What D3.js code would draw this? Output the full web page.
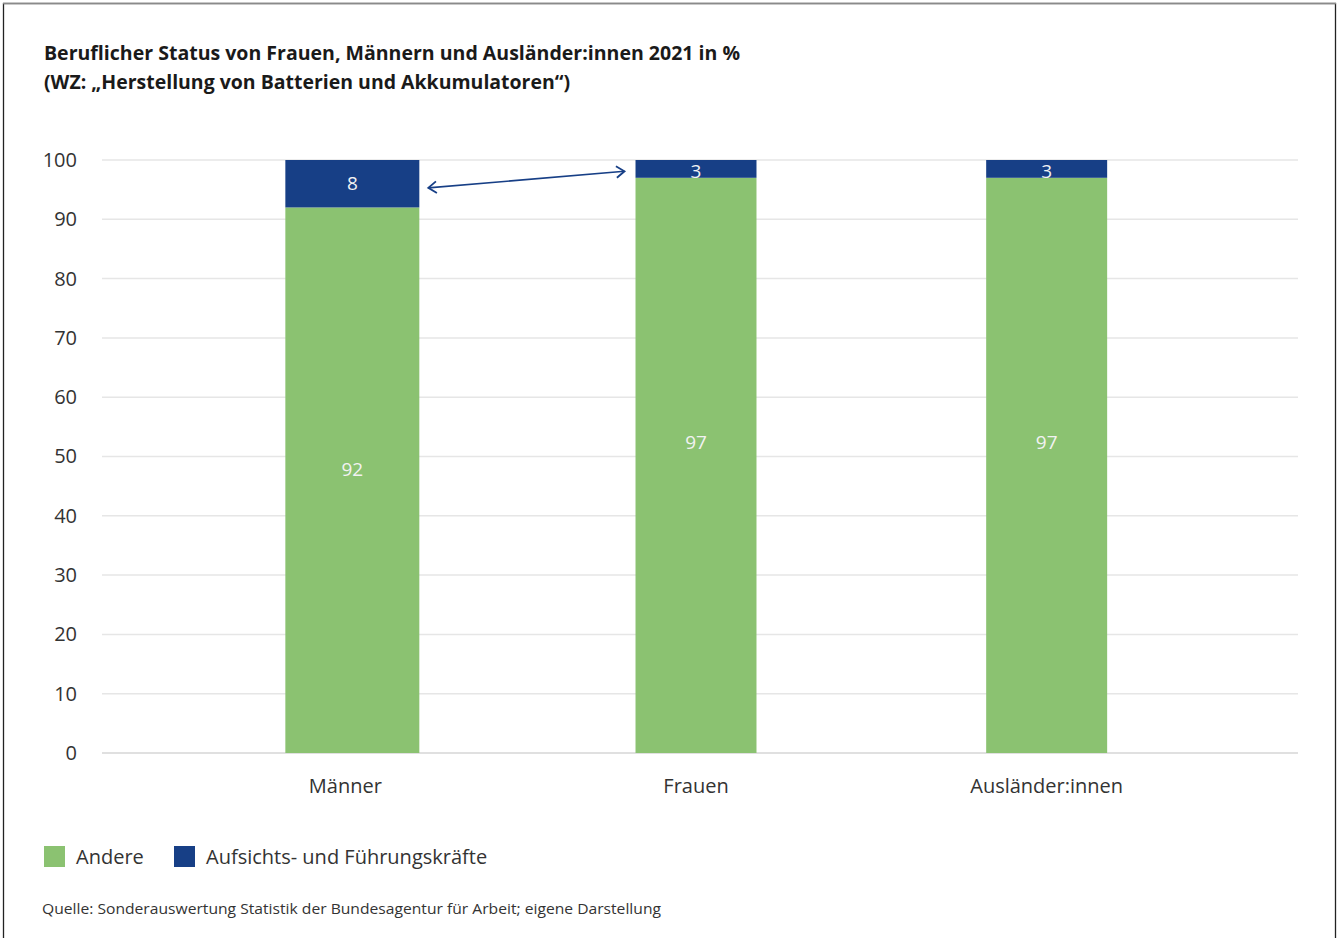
<!DOCTYPE html>
<html lang="de">
<head>
<meta charset="utf-8">
<title>Beruflicher Status 2021</title>
<script src="https://cdn.jsdelivr.net/npm/d3@7"></script>
<style>
  html, body { margin: 0; padding: 0; background: #fff; }
  svg { display: block; }
  text { font-family: "Open Sans", "Noto Sans", sans-serif; }
</style>
</head>
<body>
<svg id="chart" width="1343" height="938"></svg>
<script>
// Data
const categories = ["Männer", "Frauen", "Ausländer:innen"];
const andere = [92, 97, 97];
const fuehrung = [8, 3, 3];
const seriesNames = ["Andere", "Aufsichts- und Führungskräfte"];
const yTicks = [0, 10, 20, 30, 40, 50, 60, 70, 80, 90, 100];
const titleLines = [
  "Beruflicher Status von Frauen, Männern und Ausländer:innen 2021 in %",
  "(WZ: „Herstellung von Batterien und Akkumulatoren“)"
];
const sourceText = "Quelle: Sonderauswertung Statistik der Bundesagentur für Arbeit; eigene Darstellung";

const colors = { andere: "#8bc271", fuehrung: "#173f86" };

const svg = d3.select("#chart");

// Frame
svg.append("rect")
  .attr("x", 3.5).attr("y", 3.5)
  .attr("width", 1332).attr("height", 940)
  .attr("fill", "none").attr("stroke", "#222").attr("stroke-width", 1.3);
svg.append("line")
  .attr("x1", 3).attr("x2", 1336).attr("y1", 3.5).attr("y2", 3.5)
  .attr("stroke", "#8a8a8a").attr("stroke-width", 1.5);

// Title
svg.selectAll("text.title")
  .data(titleLines)
  .join("text")
  .attr("class", "title")
  .attr("x", 44)
  .attr("y", (d, i) => 60 + i * 29)
  .attr("font-size", 20)
  .attr("font-weight", 700)
  .attr("fill", "#1a1a1a")
  .attr("textLength", (d, i) => i === 0 ? 696 : 526)
  .attr("lengthAdjust", "spacingAndGlyphs")
  .text(d => d);

// Scales
const y = d3.scaleLinear().domain([0, 100]).range([753, 160]);
const x = d3.scaleBand().domain(categories).range([170, 1222]).paddingInner(0.655).paddingOuter(0.3275);
const gridX0 = 102, gridX1 = 1298;

// Gridlines
svg.append("g")
  .selectAll("line")
  .data(yTicks)
  .join("line")
  .attr("x1", gridX0).attr("x2", gridX1)
  .attr("y1", d => y(d)).attr("y2", d => y(d))
  .attr("stroke", d => d === 0 ? "#d6d6d6" : "#e6e6e6")
  .attr("stroke-width", 1.5);

// Y axis labels
const yAxis = d3.axisLeft(y).tickValues(yTicks).tickSize(0).tickPadding(0);
const gy = svg.append("g").attr("transform", "translate(77,0)").call(yAxis);
gy.select(".domain").remove();
gy.selectAll("text")
  .attr("font-size", 20)
  .attr("fill", "#333")
  .attr("font-family", "'Open Sans', sans-serif");

// Bar geometry: the first group is drawn slightly wider as the emphasized one
function barGeom(i) {
  const c = categories[i];
  const bw = x.bandwidth();
  if (i === 0) return { x0: x(c) - 1 + 8 - 6.5, w: bw + 13 };
  return { x0: x(c), w: bw };
}

const rows = categories.map((c, i) => ({ c, i, a: andere[i], f: fuehrung[i] }));

const bars = svg.append("g");
bars.selectAll("rect.andere")
  .data(rows)
  .join("rect")
  .attr("x", d => barGeom(d.i).x0)
  .attr("width", d => barGeom(d.i).w)
  .attr("y", d => y(d.a))
  .attr("height", d => y(0) - y(d.a))
  .attr("fill", colors.andere);
bars.selectAll("rect.fuehrung")
  .data(rows)
  .join("rect")
  .attr("x", d => barGeom(d.i).x0)
  .attr("width", d => barGeom(d.i).w)
  .attr("y", d => y(d.a + d.f))
  .attr("height", d => y(d.a) - y(d.a + d.f))
  .attr("fill", colors.fuehrung);

// Value labels
const lbl = svg.append("g")
  .attr("font-size", 19)
  .attr("fill", "#f2f2f2")
  .attr("text-anchor", "middle");
lbl.selectAll("text.a")
  .data(rows)
  .join("text")
  .attr("x", d => barGeom(d.i).x0 + barGeom(d.i).w / 2)
  .attr("y", d => (y(0) + y(d.a)) / 2 - (d.a > 95 ? 23 : 11))
  .attr("dy", "0.35em")
  .text(d => d.a);
lbl.selectAll("text.f")
  .data(rows)
  .join("text")
  .attr("x", d => barGeom(d.i).x0 + barGeom(d.i).w / 2)
  .attr("y", d => (y(d.a) + y(d.a + d.f)) / 2 + (d.f < 5 ? 2.5 : 0))
  .attr("dy", "0.35em")
  .text(d => d.f);

// Category labels
svg.append("g")
  .selectAll("text")
  .data(categories)
  .join("text")
  .attr("x", d => x(d) + x.bandwidth() / 2)
  .attr("y", 793)
  .attr("text-anchor", "middle")
  .attr("font-size", 20)
  .attr("fill", "#333")
  .text(d => d);

// Comparison arrow between the two leadership segments
const m0 = barGeom(0), m1 = barGeom(1);
const ax1 = m0.x0 + m0.w + 9, ay1 = y(95.3);
const ax2 = m1.x0 - 11, ay2 = y(98.1);
svg.append("line")
  .attr("x1", ax1).attr("y1", ay1).attr("x2", ax2).attr("y2", ay2)
  .attr("stroke", colors.fuehrung).attr("stroke-width", 1.6);
function arrowHead(px, py, ang) {
  const L = 10, spread = 0.62;
  const p = d3.path();
  p.moveTo(px + L * Math.cos(ang + spread), py + L * Math.sin(ang + spread));
  p.lineTo(px, py);
  p.lineTo(px + L * Math.cos(ang - spread), py + L * Math.sin(ang - spread));
  svg.append("path").attr("d", p.toString())
    .attr("fill", "none").attr("stroke", colors.fuehrung)
    .attr("stroke-width", 1.8).attr("stroke-linejoin", "miter");
}
const angle = Math.atan2(ay2 - ay1, ax2 - ax1);
arrowHead(ax1, ay1, angle);
arrowHead(ax2, ay2, angle + Math.PI);

// Legend
const legend = svg.append("g").attr("transform", "translate(44,846)");
const legX = [0, 130];
seriesNames.forEach((name, i) => {
  const g = legend.append("g").attr("transform", `translate(${legX[i]},0)`);
  g.append("rect").attr("width", 21).attr("height", 21)
    .attr("fill", i === 0 ? colors.andere : colors.fuehrung);
  g.append("text").attr("x", 32).attr("y", 18)
    .attr("font-size", 20).attr("fill", "#333").text(name);
});

// Source
svg.append("text")
  .attr("x", 42).attr("y", 914)
  .attr("font-size", 15).attr("fill", "#333")
  .attr("textLength", 619)
  .attr("lengthAdjust", "spacingAndGlyphs")
  .text(sourceText);
</script>
</body>
</html>
